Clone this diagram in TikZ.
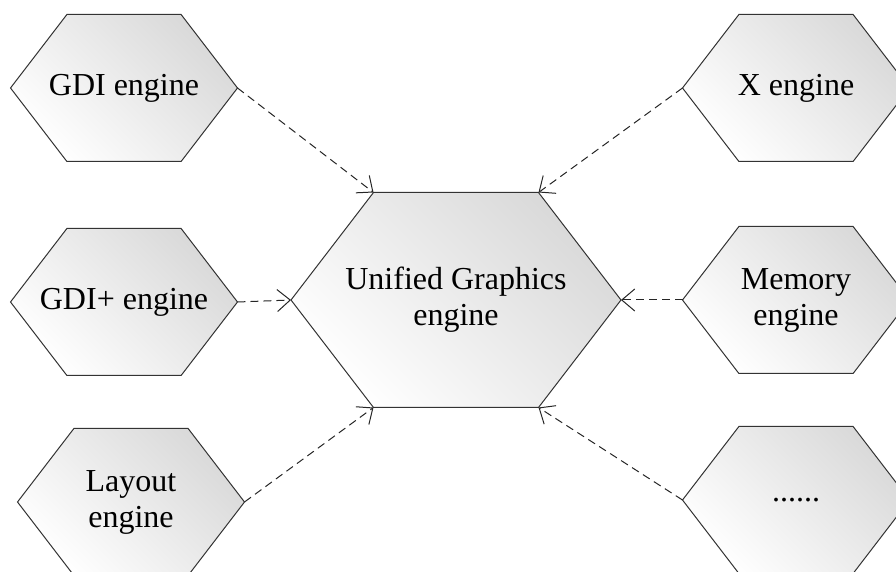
\documentclass[tikz,border=0pt]{standalone}
\usepackage{fontspec}
\setmainfont{Liberation Serif}
\usetikzlibrary{shapes.symbols}
\usetikzlibrary{arrows.meta}

\tikzset{
  hex/.style={signal, signal to=east and west, signal pointer angle=105,
    draw=black!80, line width=0.5pt,
    bottom color=white, top color=black!15, shading angle=-45,
    inner xsep=-20pt, inner ysep=0pt, outer sep=0pt, align=center,
    font=\fontsize{16}{18}\selectfont,
    minimum width=113.5pt, minimum height=73.5pt},
  bighex/.style={hex, minimum width=165pt, minimum height=107.5pt},
  link/.style={draw=black!85, line width=0.5pt, dash pattern=on 4pt off 2.5pt,
    -{Straight Barb[length=6.5pt, width=11pt]}},
}

\begin{document}
\begin{tikzpicture}[x=0.5pt, y=-0.5pt]
          \useasboundingbox (0,0) rectangle (896,572);

          \node (ug) [bighex] at (456,300) {Unified Graphics\\engine};

          \node (gdi) [hex] at (124,88) {GDI engine};
          \node (gdiplus) [hex] at (124,302) {GDI+ engine};
          \node (layout) [hex] at (131,502) {Layout\\engine};
          \node (xeng) [hex] at (796,88) {X engine};
          \node (mem) [hex] at (796,300) {Memory\\engine};
          \node (more) [hex] at (796,500) {......};

          \draw[link] (gdi.east) -- (ug.north west);
          \draw[link] (gdiplus.east) -- (ug.west);
          \draw[link] (layout.east) -- (ug.south west);
          \draw[link] (xeng.west) -- (ug.north east);
          \draw[link] (mem.west) -- (ug.east);
          \draw[link] (more.west) -- (ug.south east);
        \end{tikzpicture}
\end{document}
